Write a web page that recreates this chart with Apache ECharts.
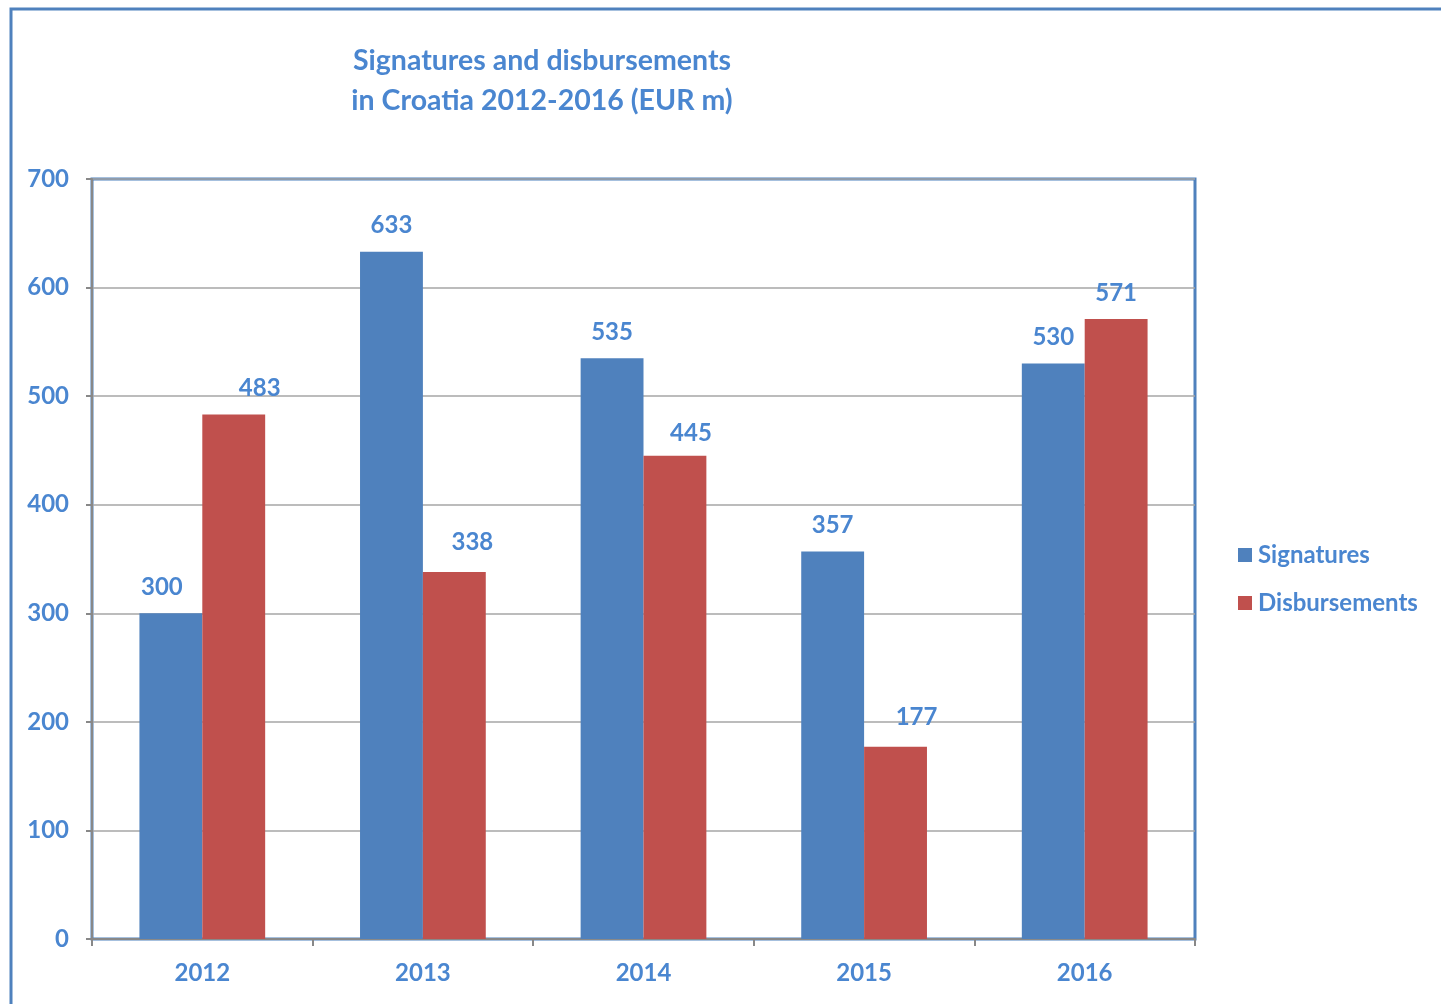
<!DOCTYPE html>
<html><head><meta charset="utf-8">
<script src="https://cdn.jsdelivr.net/npm/echarts@6/dist/echarts.min.js"></script>
<style>html,body{margin:0;padding:0;background:#fff}#c{width:1441px;height:1004px}</style>
</head><body><div id="c"></div>
<script>
const categories = ['2012','2013','2014','2015','2016'];
const signatures = [300, 633, 535, 357, 530];
const disbursements = [483, 338, 445, 177, 571];
const yTicks = {min: 0, max: 700, interval: 100};
const titleLines = ['Signatures and disbursements', 'in Croatia 2012-2016 (EUR m)'];

const blue = '#4F81BD', red = '#C0504D', txt = '#4A86D0';
const font = 'Lato';
// label nudges (styling only, mirroring the hand-placed labels of the original)
const sigLabelShift = [[-9, 0], [0, 0], [0, 0], [0, 0], [0, 0]];
const disLabelShift = [[26, 0], [18, -4], [16, 3], [21, -4], [0, 0]];

const lbl = {show: true, position: 'top', distance: 14, color: txt, fontSize: 24, fontWeight: 'bold'};
const sigData = signatures.map((v, i) => ({value: v, label: {offset: sigLabelShift[i]}}));
const disData = disbursements.map((v, i) => ({value: v, label: {offset: disLabelShift[i]}}));

const chart = echarts.init(document.getElementById('c'));
chart.setOption({
  animation: false,
  textStyle: {fontFamily: font},
  title: {
    text: titleLines.join('\n'), left: 537, top: 36, textAlign: 'center',
    textStyle: {color: txt, fontSize: 28.5, fontWeight: 'bold', lineHeight: 40, fontFamily: font}
  },
  graphic: [{
    type: 'rect', shape: {x: 11, y: 9, width: 1500, height: 1100},
    style: {fill: 'none', stroke: blue, lineWidth: 3}, silent: true
  }],
  legend: {
    orient: 'vertical', left: 1233, top: 538, itemGap: 24,
    itemWidth: 14, itemHeight: 14, icon: 'rect',
    textStyle: {color: txt, fontSize: 24, fontWeight: 'bold', fontFamily: font, padding: [0,0,0,1]}
  },
  grid: {left: 92, right: 246, top: 179, bottom: 65, show: true, borderColor: blue, borderWidth: 3, backgroundColor: 'transparent'},
  xAxis: {
    type: 'category', data: categories,
    axisLine: {lineStyle: {color: '#888', width: 2}},
    axisTick: {show: true, length: 7, lineStyle: {color: '#888', width: 2}},
    axisLabel: {color: txt, fontSize: 24, fontWeight: 'bold', margin: 22}
  },
  yAxis: {
    type: 'value', min: yTicks.min, max: yTicks.max, interval: yTicks.interval,
    axisLine: {show: true, lineStyle: {color: '#888', width: 2}},
    axisTick: {show: true, length: 6, lineStyle: {color: '#888', width: 2}},
    splitLine: {lineStyle: {color: '#A6A6A6', width: 1.5}},
    axisLabel: {color: txt, fontSize: 24, fontWeight: 'bold', margin: 23}
  },
  series: [
    {name: 'Signatures', type: 'bar', data: sigData, barGap: '0%', barCategoryGap: '43%',
     itemStyle: {color: blue}, label: lbl},
    {name: 'Disbursements', type: 'bar', data: disData,
     itemStyle: {color: red}, label: lbl}
  ]
});
</script></body></html>
